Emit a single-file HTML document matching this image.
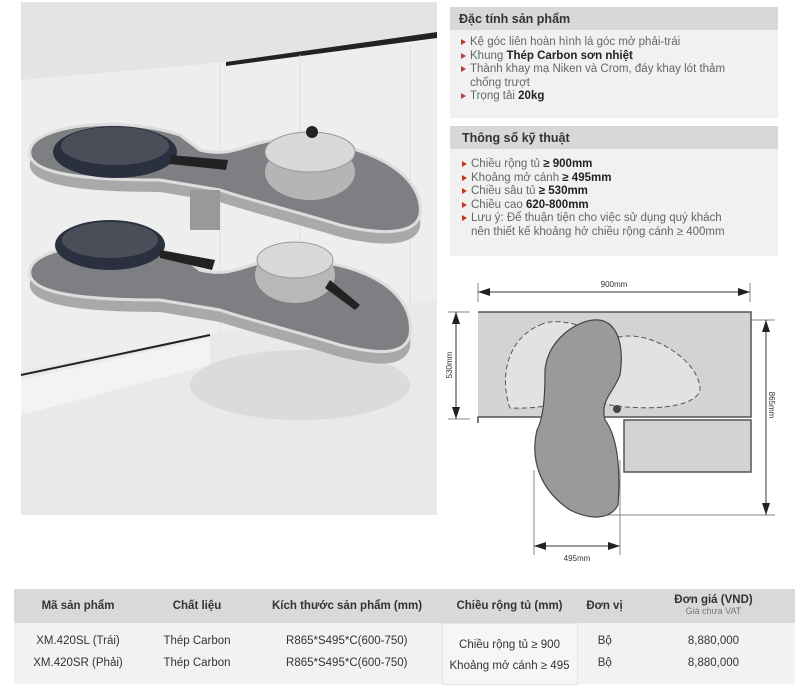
<!DOCTYPE html>
<html><head><meta charset="utf-8"><style>
*{margin:0;padding:0;box-sizing:border-box}
body{width:800px;height:690px;background:#fff;position:relative;font-family:"Liberation Sans","Noto Sans CJK SC",sans-serif;color:#444;overflow:hidden}
.hd{position:absolute;left:450px;width:328px;background:#d8d8d8;font-size:12.5px;font-weight:bold;color:#333;padding:5px 0 0 9px}
.bx{position:absolute;left:450px;width:328px;background:#f1f1f1;font-size:11.5px;color:#666;line-height:13.5px;padding:6px 0 0 11px;white-space:nowrap}
.bx div{position:relative;padding-left:9px}
.bx div:before{content:"";position:absolute;left:0;top:3px;border-left:5px solid #c0392b;border-top:3px solid transparent;border-bottom:3px solid transparent}
.bx b{color:#222}
table{position:absolute;left:14px;top:589px;width:781px;border-collapse:collapse;font-size:11.5px;color:#333}
th{background:#d9d9d9;height:34px;font-weight:bold;font-size:11.5px}
td{background:#f2f2f2;text-align:center;height:22px}
</style></head><body>
<svg width="800" height="690" style="position:absolute;left:0;top:0">
<rect x="21" y="2" width="416" height="513" fill="#ebebeb"/>
<rect x="21" y="2" width="416" height="78" fill="#e4e4e4"/>
<polygon points="21,80 226,62 437,34 437,340 21,400" fill="#eeeeee"/>
<polygon points="226,62 437,32 437,38 226,66" fill="#222"/>
<line x1="220" y1="62" x2="220" y2="370" stroke="#ddd"/>
<line x1="300" y1="55" x2="300" y2="330" stroke="#ddd"/>
<line x1="410" y1="45" x2="410" y2="320" stroke="#ddd"/>
<polygon points="21,370 210,335 437,300 437,515 21,515" fill="#e9e9e9"/>
<polygon points="21,380 210,338 210,365 21,415" fill="#f3f3f3"/>
<line x1="21" y1="375" x2="210" y2="335" stroke="#222" stroke-width="2"/>
<ellipse cx="300" cy="385" rx="110" ry="35" fill="#d2d2d2" opacity=".6"/>
<g transform="translate(0,110)">
<path d="M30,160 C35,135 120,125 180,145 L200,160 C240,170 250,145 300,150 C380,155 415,190 410,225 C405,245 380,245 340,235 C290,220 250,210 220,200 L160,190 C90,190 25,185 30,160Z" fill="#a9a9a9" transform="translate(0,12)"/>
<path d="M30,160 C35,135 120,125 180,145 L200,160 C240,170 250,145 300,150 C380,155 415,190 410,225 C405,245 380,245 340,235 C290,220 250,210 220,200 L160,190 C90,190 25,185 30,160Z" fill="#7d7f83" stroke="#ddd" stroke-width="3"/>
<ellipse cx="110" cy="135" rx="55" ry="25" fill="#2b3040"/><ellipse cx="110" cy="130" rx="48" ry="18" fill="#4a4e58"/>
<path d="M160,140 L215,150 L212,160 L160,148Z" fill="#222"/>
<ellipse cx="295" cy="165" rx="40" ry="28" fill="#b8b8b8"/><ellipse cx="295" cy="150" rx="38" ry="18" fill="#d8d8d8" stroke="#999"/>
<path d="M330,170 L360,195 L355,200 L325,178Z" fill="#222"/>
</g>
<path d="M30,150 C35,125 120,115 180,135 L200,150 C240,160 250,135 300,140 C380,145 425,180 420,215 C415,235 380,235 340,225 C290,210 250,200 220,190 L160,180 C90,180 25,175 30,150Z" fill="#a9a9a9" transform="translate(0,12)"/>
<path d="M30,150 C35,125 120,115 180,135 L200,150 C240,160 250,135 300,140 C380,145 425,180 420,215 C415,235 380,235 340,225 C290,210 250,200 220,190 L160,180 C90,180 25,175 30,150Z" fill="#7d7f83" stroke="#ddd" stroke-width="3"/>
<ellipse cx="115" cy="152" rx="62" ry="26" fill="#2b3040"/><ellipse cx="115" cy="146" rx="54" ry="19" fill="#4a4e58"/>
<path d="M170,155 L228,160 L226,170 L170,164Z" fill="#222"/>
<ellipse cx="310" cy="172" rx="45" ry="28" fill="#b5b5b5"/><ellipse cx="310" cy="152" rx="45" ry="20" fill="#d8d8d8" stroke="#999"/>
<circle cx="312" cy="132" r="6" fill="#222"/>
<rect x="190" y="190" width="30" height="40" fill="#999"/>
<g fill="none" stroke="#888" stroke-width="1">
<line x1="478" y1="283" x2="478" y2="302"/><line x1="750" y1="283" x2="750" y2="302"/>
<line x1="478" y1="292" x2="750" y2="292" stroke="#333"/>
<line x1="448" y1="312" x2="470" y2="312"/><line x1="448" y1="419" x2="470" y2="419"/>
<line x1="456" y1="312" x2="456" y2="419" stroke="#333"/>
<line x1="608" y1="320" x2="775" y2="320"/><line x1="608" y1="515" x2="775" y2="515"/>
<line x1="766" y1="320" x2="766" y2="515" stroke="#333"/>
<line x1="534" y1="470" x2="534" y2="555"/><line x1="620" y1="460" x2="620" y2="555"/>
<line x1="534" y1="546" x2="620" y2="546" stroke="#333"/>
</g>
<g fill="#222">
<polygon points="478,292 490,288 490,296"/><polygon points="750,292 738,288 738,296"/>
<polygon points="456,312 452,324 460,324"/><polygon points="456,419 452,407 460,407"/>
<polygon points="766,320 762,332 770,332"/><polygon points="766,515 762,503 770,503"/>
<polygon points="534,546 546,542 546,550"/><polygon points="620,546 608,542 608,550"/>
</g>
<path d="M478,312 L751,312 L751,417 L478,417 L478,423" fill="#d3d3d3" stroke="#555" stroke-width="1.5"/>
<rect x="624" y="420" width="127" height="52" fill="#d3d3d3" stroke="#555" stroke-width="1.5"/>
<path d="M540,325 C560,315 590,330 620,337 C650,330 700,360 700,390 C695,410 640,410 610,405 C580,395 550,410 510,408 C500,380 505,340 540,325Z" fill="#e2e2e2" stroke="#555" stroke-dasharray="5,3"/>
<path d="M593,320 C615,318 625,340 620,375 C612,395 600,400 605,420 C620,440 620,480 618,505 C610,520 590,520 570,510 C540,490 530,460 537,430 C545,415 545,385 545,370 C548,340 575,322 593,320Z" fill="#9a9a9a" stroke="#444" stroke-width="1.2"/>
<circle cx="617" cy="409" r="4" fill="#444"/>
<g font-size="8px" fill="#333" font-family="Liberation Sans,sans-serif">
<text x="614" y="287" text-anchor="middle">900mm</text>
<text x="577" y="561" text-anchor="middle">495mm</text>
<text transform="translate(452,365) rotate(-90)" text-anchor="middle">530mm</text>
<text transform="translate(769,405) rotate(90)" text-anchor="middle">865mm</text>
</g>
</svg>
<div class="hd" style="top:7px;height:23px">Đặc tính sản phẩm</div>
<div class="bx" style="top:30px;height:88px">
<div>Kệ góc liên hoàn hình lá góc mở phải-trái</div>
<div>Khung <b>Thép Carbon sơn nhiệt</b></div>
<div>Thành khay mạ Niken và Crom, đáy khay lót thảm<br>chống trượt</div>
<div>Trọng tải <b>20kg</b></div>
</div>
<div class="hd" style="top:126px;height:23px;padding-left:12px">Thông số kỹ thuật</div>
<div class="bx" style="top:149px;height:107px;padding-left:12px;padding-top:9px">
<div>Chiều rộng tủ <b>≥ 900mm</b></div>
<div>Khoảng mở cánh <b>≥ 495mm</b></div>
<div>Chiều sâu tủ <b>≥ 530mm</b></div>
<div>Chiều cao <b>620-800mm</b></div>
<div>Lưu ý: Để thuận tiện cho việc sử dụng quý khách<br>nên thiết kế khoảng hở chiều rộng cánh ≥ 400mm</div>
</div>
<table>
<tr><th style="width:128px">Mã sản phẩm</th><th style="width:110px">Chất liệu</th><th style="width:190px">Kích thước sản phẩm (mm)</th><th style="width:135px">Chiều rộng tủ (mm)</th><th style="width:55px">Đơn vị</th><th style="line-height:11px">Đơn giá (VND)<br><span style="font-weight:normal;font-size:9px;color:#777">Giá chưa VAT</span></th></tr>
<tr><td style="height:7px" colspan="3"></td><td rowspan="4" style="background:#f6f6f6;border:1px solid #e4e4e4;line-height:21px;padding-top:4px">Chiều rộng tủ ≥ 900<br>Khoảng mở cánh ≥ 495</td><td colspan="2" style="height:7px"></td></tr>
<tr><td>XM.420SL (Trái)</td><td>Thép Carbon</td><td>R865*S495*C(600-750)</td><td>Bộ</td><td>8,880,000</td></tr>
<tr><td>XM.420SR (Phải)</td><td>Thép Carbon</td><td>R865*S495*C(600-750)</td><td>Bộ</td><td>8,880,000</td></tr>
<tr><td colspan="3" style="height:10px"></td><td colspan="2" style="height:10px"></td></tr>
</table>
</body></html>
